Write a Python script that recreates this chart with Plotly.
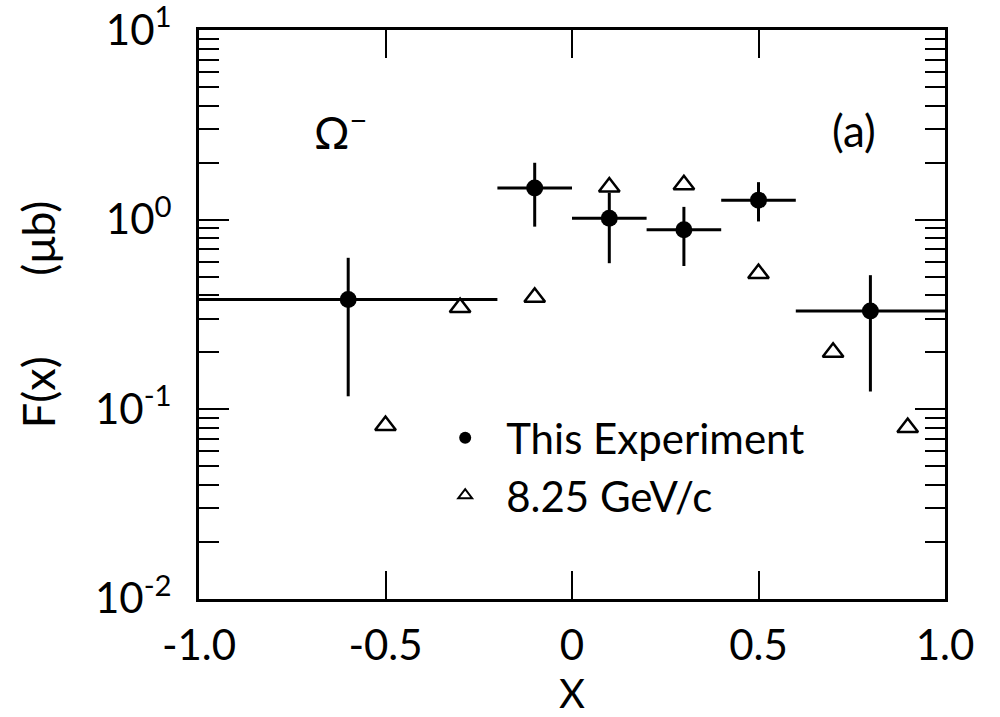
import plotly.graph_objects as go

# This experiment (filled circles)
exp_x = [-0.6, -0.1, 0.1, 0.3, 0.5, 0.8]
exp_xerr = [0.4, 0.1, 0.1, 0.1, 0.1, 0.2]
exp_y = [0.38, 1.47, 1.02, 0.885, 1.27, 0.33]
exp_y_hi = [0.63, 2.0, 1.39, 1.17, 1.58, 0.51]
exp_y_lo = [0.117, 0.92, 0.59, 0.57, 0.98, 0.124]

# 8.25 GeV/c (open triangles)
ref_x = [-0.5, -0.3, -0.1, 0.1, 0.3, 0.5, 0.7, 0.9]
ref_y = [0.082, 0.344, 0.39, 1.49, 1.53, 0.52, 0.2, 0.08]

x_tickvals = [-1.0, -0.5, 0, 0.5, 1.0]
x_ticktext = ["-1.0", "-0.5", "0", "0.5", "1.0"]
y_tickvals = [0.01, 0.1, 1, 10]
y_ticktext = ["10<sup>-2</sup>", "10<sup>-1</sup>", "10<sup>0</sup>", "10<sup>1</sup>"]
y_minor_vals = [m * d for d in (0.01, 0.1, 1) for m in range(2, 10)]

FONT = "Lato"

fig = go.Figure()
fig.add_trace(go.Scatter(
    x=exp_x, y=exp_y, mode="markers", name="\u2002This Experiment",
    marker=dict(symbol="circle", size=17, color="black"),
    error_x=dict(type="data", array=exp_xerr, color="black", thickness=3, width=0),
    error_y=dict(type="data", symmetric=False,
                 array=[h - v for h, v in zip(exp_y_hi, exp_y)],
                 arrayminus=[v - l for v, l in zip(exp_y, exp_y_lo)],
                 color="black", thickness=3, width=0),
))
fig.add_trace(go.Scatter(
    x=ref_x, y=ref_y, mode="markers", name="\u20028.25 GeV/c",
    marker=dict(symbol="triangle-up-open", size=18, color="black", line=dict(width=2.5)),
))

fig.update_layout(
    width=1000, height=717,
    margin=dict(l=199, r=55, t=30, b=118, autoexpand=False),
    paper_bgcolor="white", plot_bgcolor="white",
    font=dict(family=FONT, color="black", size=36),
    showlegend=True,
    legend=dict(x=0.33, y=0.343, xanchor="left", yanchor="top",
                bgcolor="rgba(0,0,0,0)", font=dict(size=42, family=FONT),
                itemsizing="constant"),
    xaxis=dict(range=[-1, 1], tickvals=x_tickvals, ticktext=x_ticktext, tickmode="array",
               ticks="inside", ticklen=28, tickwidth=2, tickcolor="black",
               showline=True, linecolor="black", linewidth=3, mirror="ticks",
               showgrid=False, zeroline=False, ticklabelstandoff=8, automargin=False,
               tickfont=dict(size=42, family=FONT),
               title=dict(text="X", font=dict(size=40, family=FONT), standoff=10)),
    yaxis=dict(type="log", range=[-2.002, 1.002], tickvals=y_tickvals, ticktext=y_ticktext,
               tickmode="array", ticklabeloverflow="allow",
               ticks="inside", ticklen=30, tickwidth=2, tickcolor="black",
               showline=True, linecolor="black", linewidth=3, mirror="ticks",
               showgrid=False, zeroline=False, ticklabelstandoff=16, automargin=False,
               minor=dict(tickvals=y_minor_vals, ticks="inside", ticklen=20, tickwidth=2,
                          tickcolor="black", showgrid=False),
               tickfont=dict(size=42, family=FONT),
               title=dict(text="F(x)&nbsp;&nbsp;&nbsp;&nbsp;&nbsp;&nbsp;&nbsp;(&mu;b)",
                          font=dict(size=45, family=FONT), standoff=26)),
    annotations=[
        dict(text="Ω<sup>−</sup>", x=0.19, y=0.825, xref="paper", yref="paper",
             xanchor="center", yanchor="middle",
             showarrow=False, font=dict(size=44, family=FONT)),
        dict(text="(a)", x=0.878, y=0.824, xref="paper", yref="paper",
             xanchor="center", yanchor="middle",
             showarrow=False, font=dict(size=44, family=FONT)),
    ],
)

fig.write_html("out.html")
